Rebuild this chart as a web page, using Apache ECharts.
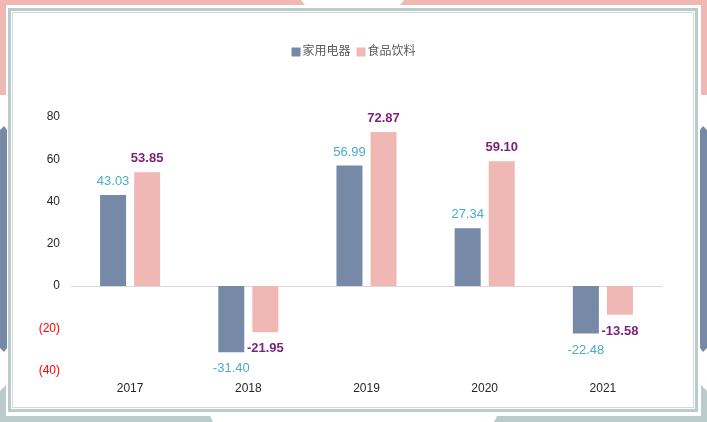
<!DOCTYPE html>
<html><head><meta charset="utf-8">
<script src="https://cdn.jsdelivr.net/npm/echarts@6/dist/echarts.min.js"></script>
<style>html,body{margin:0;padding:0;background:#fff}#c{width:707px;height:422px}</style>
</head><body><div id="c"></div>
<script>
const categories = ['2017','2018','2019','2020','2021'];
const seriesNames = ['家用电器','食品饮料'];
const appliances = [43.03, -31.40, 56.99, 27.34, -22.48];
const foodBeverage = [53.85, -21.95, 72.87, 59.10, -13.58];
const yTicks = [-40, -20, 0, 20, 40, 60, 80];

const chart = echarts.init(document.getElementById('c'), null, {renderer:'canvas'});
const pink = '#f0b8b4', slate = '#7689a7', sage = '#b9cbca';
const font = '"Liberation Sans", Arial, "Noto Sans CJK SC", sans-serif';

function withLabelPos(arr){
  return arr.map(v => v < 0 ? {value:v, label:{position:'bottom', distance:10}} : v);
}

chart.setOption({
  animation:false,
  backgroundColor:'#fff',
  textStyle:{fontFamily:font},
  graphic:[
    {type:'polygon', shape:{points:[[0,0],[301,0],[305,5],[6,5],[6,95],[0,95]]}, style:{fill:pink}},
    {type:'polygon', shape:{points:[[404,0],[707,0],[707,95],[701,95],[701,5],[400,5]]}, style:{fill:pink}},
    {type:'polygon', shape:{points:[[0,130],[4,126],[7,130],[7,348],[4,352],[0,348]]}, style:{fill:slate}},
    {type:'polygon', shape:{points:[[707,130],[703,126],[700,130],[700,348],[703,352],[707,348]]}, style:{fill:slate}},
    {type:'polygon', shape:{points:[[0,391],[6,385],[6,416],[210,416],[213,422],[0,422]]}, style:{fill:sage}},
    {type:'polygon', shape:{points:[[707,391],[701,385],[701,416],[497,416],[494,422],[707,422]]}, style:{fill:sage}},
    {type:'rect', shape:{x:9.5,y:9.5,width:687,height:401}, style:{fill:null, stroke:sage, lineWidth:3}},
    {type:'rect', shape:{x:12.5,y:12.5,width:681,height:395}, style:{fill:null, stroke:'#cfdcdb', lineWidth:1}}
  ],
  legend:{
    data:seriesNames, top:41, left:'center', icon:'rect', itemWidth:9, itemHeight:9, itemGap:6,
    textStyle:{color:'#595959', fontSize:12, fontFamily:font, padding:[0,0,0,-3]}
  },
  grid:{left:71, right:45, top:117, bottom:51.5},
  xAxis:[
    {type:'category', data:categories, axisLine:{show:false, onZero:false}, axisTick:{show:false},
     axisLabel:{color:'#262626', fontSize:12, margin:12}},
    {type:'category', data:categories, position:'bottom', axisLine:{show:true, onZero:true, lineStyle:{color:'#d9d9d9', width:1}},
     axisTick:{show:false}, axisLabel:{show:false}}
  ],
  yAxis:{type:'value', min:yTicks[0], max:yTicks[yTicks.length-1], interval:20,
    axisLine:{show:false}, axisTick:{show:false}, splitLine:{show:false},
    axisLabel:{margin:11, fontSize:12,
      formatter:v=> v<0 ? '{n|('+Math.abs(v)+')}' : '{p|'+v+'}',
      rich:{p:{color:'#262626', fontSize:12}, n:{color:'#ff0000', fontSize:12}}}
  },
  series:[
    {name:seriesNames[0], type:'bar', data:withLabelPos(appliances), barWidth:26, barGap:'31%',
     itemStyle:{color:slate},
     label:{show:true, color:'#4badc8', fontSize:13, fontFamily:font, distance:7,
       formatter:p=>Number(p.value).toFixed(2), position:'top'}},
    {name:seriesNames[1], type:'bar', data:withLabelPos(foodBeverage), barWidth:26,
     itemStyle:{color:pink},
     label:{show:true, color:'#7b1f7d', fontSize:13, fontWeight:'bold', fontFamily:font, distance:7,
       formatter:p=>Number(p.value).toFixed(2), position:'top'}}
  ]
});
</script></body></html>
